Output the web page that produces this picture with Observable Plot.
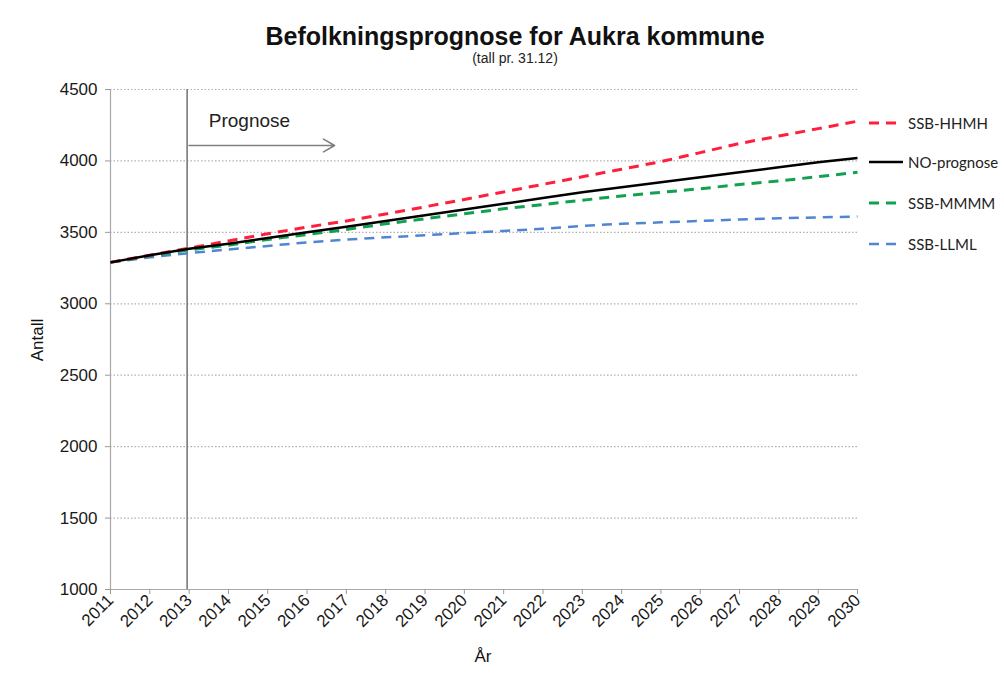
<!DOCTYPE html>
<html>
<head>
<meta charset="utf-8">
<script src="https://cdn.jsdelivr.net/npm/d3@7"></script>
<script src="https://cdn.jsdelivr.net/npm/@observablehq/plot@0.6"></script>
<style>
  html, body { margin: 0; padding: 0; background: #fff; }
  body { width: 1004px; height: 675px; position: relative; overflow: hidden; font-family: "Liberation Sans", Arial, sans-serif; }
  #title { position: absolute; top: 22px; left: 0; width: 1030px; text-align: center; font-weight: bold; font-size: 25px; color: #111; }
  #subtitle { position: absolute; top: 50px; left: 0; width: 1030px; text-align: center; font-size: 14px; color: #222; }
  #chart { position: absolute; top: 70px; left: 0; }
  #ylab { position: absolute; left: 38px; top: 340px; transform: translate(-50%, -50%) rotate(-90deg); font-size: 17px; color: #111; white-space: nowrap; }
  #xlab { position: absolute; left: 483px; top: 657px; transform: translate(-50%, -50%); font-size: 17px; color: #111; }
  #legend { position: absolute; left: 868px; top: 0; font-family: Lato, "Open Sans", sans-serif; font-size: 15px; color: #222; }
  .lg { position: absolute; left: 0; display: flex; align-items: center; white-space: nowrap; }
  .lg svg { margin-right: 4px; }
</style>
</head>
<body>
<div id="title">Befolkningsprognose for Aukra kommune</div>
<div id="subtitle">(tall pr. 31.12)</div>
<div id="chart"></div>
<div id="ylab">Antall</div>
<div id="xlab">År</div>
<div id="legend"></div>
<script>
// ---- data ----
const years = [2011,2012,2013,2014,2015,2016,2017,2018,2019,2020,2021,2022,2023,2024,2025,2026,2027,2028,2029,2030];
const seriesNames = ["SSB-HHMH", "NO-prognose", "SSB-MMMM", "SSB-LLML"];
const ssbHHMH = [3290,3340,3390,3440,3490,3537,3580,3628,3679,3730,3783,3836,3889,3942,3995,4058,4122,4174,4226,4278];
const noPrognose = [3290,3340,3385,3420,3460,3500,3540,3580,3620,3660,3700,3740,3780,3815,3850,3885,3920,3955,3990,4020];
const ssbMMMM = [3290,3335,3378,3410,3450,3485,3520,3560,3595,3630,3665,3695,3725,3755,3780,3805,3835,3860,3890,3920];
const ssbLLML = [3290,3325,3355,3380,3405,3430,3450,3465,3480,3495,3510,3525,3545,3560,3570,3580,3590,3598,3605,3611];
const yTicks = [1000,1500,2000,2500,3000,3500,4000,4500];
const prognoseStart = 2013;
const prognoseLabel = "Prognose";
const arrowEnd = 2016.7;
const arrowY = 4108;
const labelY = 4283;
const labelX = 2013.5;

// ---- styles ----
const styles = {
  "SSB-HHMH":   {stroke: "#ff1f3d", dash: "10,7", width: 3},
  "NO-prognose":{stroke: "#000000", dash: null,   width: 2.5},
  "SSB-MMMM":   {stroke: "#12a150", dash: "10,7", width: 3},
  "SSB-LLML":   {stroke: "#4f86d2", dash: "10,7", width: 2.5}
};
const valuesBySeries = {"SSB-HHMH": ssbHHMH, "NO-prognose": noPrognose, "SSB-MMMM": ssbMMMM, "SSB-LLML": ssbLLML};
const table = seriesNames.flatMap(s => years.map((yr, i) => ({series: s, year: yr, value: valuesBySeries[s][i]})));

const lineMarks = ["SSB-LLML","SSB-MMMM","SSB-HHMH","NO-prognose"].map(s => Plot.line(table.filter(d => d.series === s), {
  x: "year", y: "value", stroke: styles[s].stroke, strokeWidth: styles[s].width,
  strokeDasharray: styles[s].dash || undefined, strokeLinecap: "butt"
}));

const chart = Plot.plot({
  width: 1004,
  height: 605,
  marginLeft: 110,
  marginRight: 147,
  marginTop: 19,
  marginBottom: 86,
  style: {fontFamily: "'Liberation Sans', Arial, sans-serif", color: "#1a1a1a", background: "transparent"},
  x: {domain: [2011, 2030]},
  y: {domain: [1000, 4500]},
  marks: [
    Plot.ruleY(yTicks.filter(v => v > 1000), {stroke: "#b0b0b0", strokeDasharray: "1.5,2", strokeWidth: 1.2}),
    Plot.ruleY([1000], {stroke: "#a8a8a8", strokeWidth: 1.2}),
    Plot.ruleX([2011], {stroke: "#a8a8a8", strokeWidth: 1.2}),
    Plot.axisY({ticks: yTicks, tickSize: 5, tickPadding: 8, fontSize: 17, stroke: "#999", label: null, tickFormat: d => String(d)}),
    Plot.axisX({ticks: years, tickSize: 5, tickPadding: 3, tickRotate: -45, fontSize: 17, stroke: "#999", label: null, tickFormat: d => String(d)}),
    Plot.ruleX([prognoseStart], {stroke: "#7a7a7a", strokeWidth: 1.6, dx: -2}),
    ...lineMarks,
    Plot.arrow([{x1: prognoseStart, x2: arrowEnd, y: arrowY}], {x1: "x1", x2: "x2", y1: "y", y2: "y", stroke: "#808080", strokeWidth: 1.6, headLength: 12, bend: 0}),
    Plot.text([prognoseLabel], {x: labelX, y: labelY, text: d => d, textAnchor: "start", fontSize: 19, fill: "#222"})
  ]
});
document.getElementById("chart").appendChild(chart);

// ---- legend ----
const legendRows = [["SSB-HHMH", 123], ["NO-prognose", 162], ["SSB-MMMM", 203], ["SSB-LLML", 244]];
const legend = document.getElementById("legend");
for (const [name, y] of legendRows) {
  const st = styles[name];
  const row = document.createElement("div");
  row.className = "lg";
  row.style.top = (y - 10) + "px";
  row.style.height = "20px";
  row.innerHTML = `<svg width="36" height="20"><line x1="1" x2="35" y1="10" y2="10" stroke="${st.stroke}" stroke-width="${st.width}" ${st.dash ? `stroke-dasharray="10,7"` : ""}/></svg><span>${name}</span>`;
  legend.appendChild(row);
}
</script>
</body>
</html>
